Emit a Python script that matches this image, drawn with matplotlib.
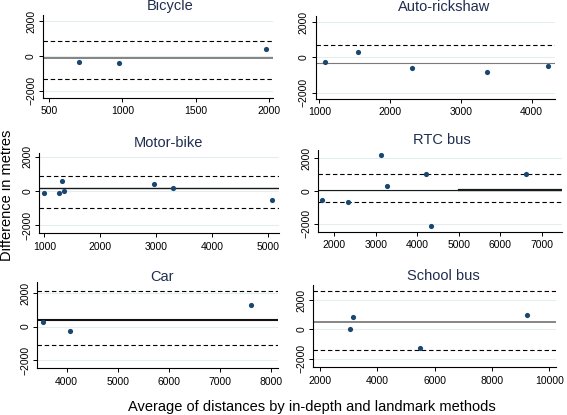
import numpy as np
import matplotlib
matplotlib.use("Agg")
import matplotlib.pyplot as plt

plt.rcParams['font.family'] = ['Liberation Sans', 'DejaVu Sans']

# Panel names and data (average, difference)
panels = ["Bicycle", "Auto-rickshaw", "Motor-bike", "RTC bus", "Car", "School bus"]

bicycle_avg = [701, 976, 1984]
bicycle_diff = [-365, -423, 403]
auto_avg = [1080, 1551, 2314, 3369, 4236]
auto_diff = [-264, 283, -585, -830, -510]
motor_avg = [995, 1267, 1321, 1351, 2955, 3300, 5071]
motor_diff = [-97, -136, 583, -19, 427, 155, -524]
rtc_avg = [1711, 2322, 3118, 3278, 4219, 4324, 6623]
rtc_diff = [-533, -677, 2214, 287, 1066, -2153, 1046]
car_avg = [3543, 4065, 7600]
car_diff = [293, -293, 1307]
school_avg = [3047, 3140, 5488, 9233]
school_diff = [45, 818, -1250, 1000]

# mean difference and limits of agreement (None = not drawn)
means = [-115, -302, 194, 62, 410, 522]
upper = [883, 698, 854, 1025, 2126, 2634]
lower = [-1346, None, -971, -656, -1092, -1386]

xticks = [
    [500, 1000, 1500, 2000],
    [1000, 2000, 3000, 4000],
    [1000, 2000, 3000, 4000, 5000],
    [2000, 3000, 4000, 5000, 6000, 7000],
    [4000, 5000, 6000, 7000, 8000],
    [2000, 4000, 6000, 8000, 10000],
]
yticks = [-2000, 0, 2000]

avgs = [bicycle_avg, auto_avg, motor_avg, rtc_avg, car_avg, school_avg]
diffs = [bicycle_diff, auto_diff, motor_diff, rtc_diff, car_diff, school_diff]

# layout (pixels: left, right, top, bottom) and axis ranges
W, H = 567, 415
boxes = [
    (43, 273, 15, 97.7),
    (315.7, 555, 16, 98.7),
    (39.3, 279, 153.3, 233.3),
    (318.3, 561.7, 150, 231.7),
    (37.3, 278.3, 281.7, 368.3),
    (313.3, 556, 285, 367.3),
]
xlims = [(456, 2030), (948, 4330), (911, 5190), (1614, 7483), (3425, 8140), (1770, 10230)]
ylims = [(-2400, 2350), (-2343, 2340), (-2464, 2194), (-2500, 2520), (-2500, 2680), (-2590, 3020)]
title_pos = [(170, 6), (444, 7), (168, 142.7), (442, 140), (162, 277), (443, 275.7)]

mean_colors = ['#6e6e6e', '#7a7a7a', '#1a1a1a', '#1a1a1a', '#111111', '#666666']
mean_widths = [1.2, 0.8, 1.0, 0.8, 1.5, 1.1]

navy = '#1a476f'
title_col = '#1f2d4e'

fig = plt.figure(figsize=(W / 100, H / 100), dpi=100)

for i, name in enumerate(panels):
    L, R, T, B = boxes[i]
    ax = fig.add_axes([L / W, 1 - B / H, (R - L) / W, (B - T) / H])
    ax.set_xlim(*xlims[i])
    ax.set_ylim(*ylims[i])

    for yt in yticks:
        ax.axhline(yt, color='#e6edf0', lw=0.8, zorder=0)

    ax.axhline(upper[i], color='black', lw=0.8, ls=(0, (4, 2.5)), zorder=1)
    if lower[i] is not None:
        ax.axhline(lower[i], color='black', lw=0.8, ls=(0, (4, 2.5)), zorder=1)
    ax.axhline(means[i], color=mean_colors[i], lw=mean_widths[i], zorder=2)
    if name == "RTC bus":
        # heavier stretch of the mean line in the original
        ax.plot([5000, xlims[i][1]], [means[i], means[i]], color='#1a1a1a', lw=1.6, zorder=2)

    ax.scatter(avgs[i], diffs[i], s=14, color=navy, zorder=3, linewidths=0)

    ax.set_xticks(xticks[i])
    ax.set_yticks(yticks)
    ax.tick_params(axis='both', labelsize=7.5, length=3, width=0.7, pad=2, colors='black')
    ax.tick_params(axis='x', pad=3)
    for lab in ax.get_yticklabels():
        lab.set_rotation(90)
        lab.set_va('center')
    for s in ['top', 'right']:
        ax.spines[s].set_visible(False)
    for s in ['left', 'bottom']:
        ax.spines[s].set_linewidth(0.8)
    ax.set_facecolor('none')

    tx, ty = title_pos[i]
    fig.text(tx / W, 1 - ty / H, name, ha='center', va='center', fontsize=10.5, color=title_col)

fig.text(7.5 / W, 1 - 195 / H, "Difference in metres", rotation=90, ha='center', va='center', fontsize=10.5)
fig.text(312 / W, 1 - 407 / H, "Average of distances by in-depth and landmark methods",
         ha='center', va='center', fontsize=10.5)

fig.savefig("out.png", dpi=100, facecolor='white')
